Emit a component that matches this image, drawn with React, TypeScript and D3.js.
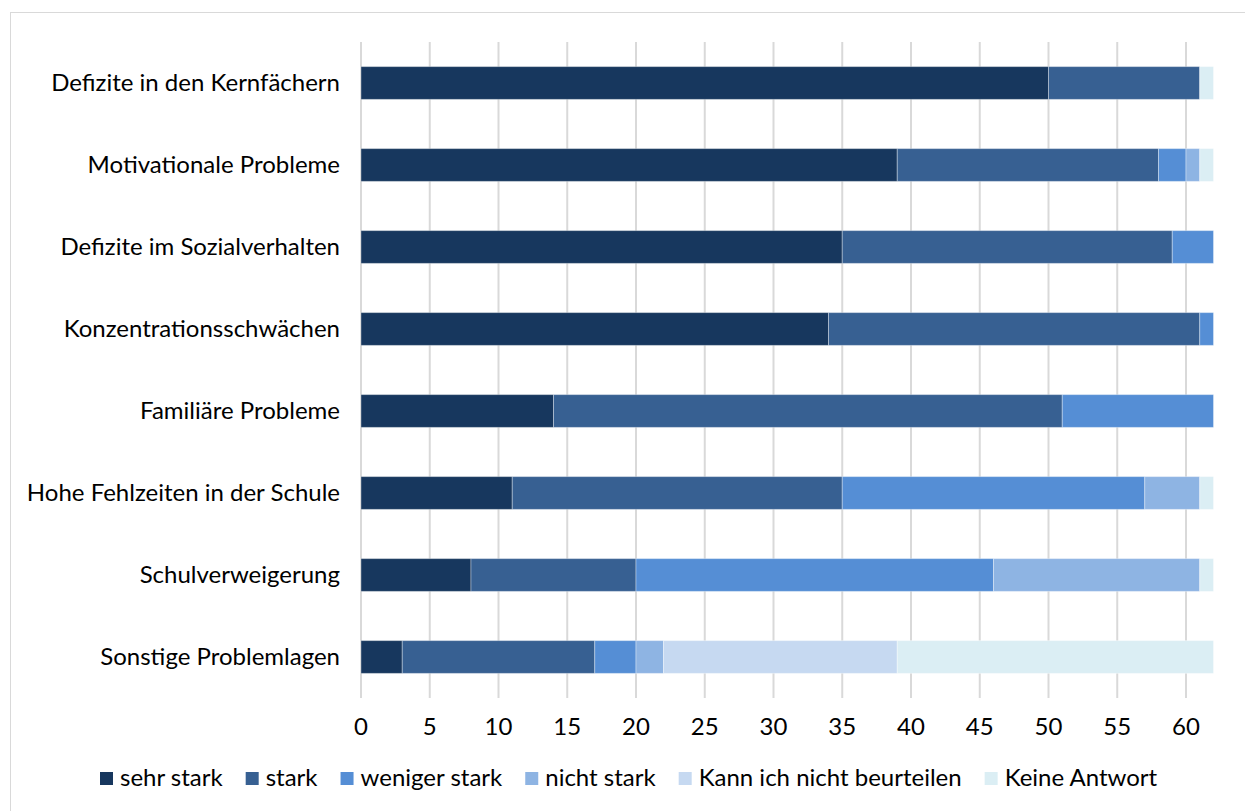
import * as d3 from 'd3';
import { useRef, useEffect } from "react"

const categories = [
    "Defizite in den Kernfächern",
    "Motivationale Probleme",
    "Defizite im Sozialverhalten",
    "Konzentrationsschwächen",
    "Familiäre Probleme",
    "Hohe Fehlzeiten in der Schule",
    "Schulverweigerung",
    "Sonstige Problemlagen",
]
const seriesNames = ["sehr stark", "stark", "weniger stark", "nicht stark", "Kann ich nicht beurteilen", "Keine Antwort"]
const sehrStark = [50, 39, 35, 34, 14, 11, 8, 3]
const stark = [11, 19, 24, 27, 37, 24, 12, 14]
const wenigerStark = [0, 2, 3, 1, 11, 22, 26, 3]
const nichtStark = [0, 1, 0, 0, 0, 4, 15, 2]
const kannNicht = [0, 0, 0, 0, 0, 0, 0, 17]
const keineAntwort = [1, 1, 0, 0, 0, 1, 1, 23]
const xTicks = [0, 5, 10, 15, 20, 25, 30, 35, 40, 45, 50, 55, 60]
const colors = ["#17375e", "#376092", "#558ed5", "#8eb4e3", "#c6d9f1", "#dbeef4"]

const FONT = "Lato, 'Open Sans', sans-serif"
const FONT_SIZE = "24px"

function App() {
    const ref = useRef<SVGSVGElement | null>(null)

    useEffect(() => {
        renderChart();
    }, [])

    function renderChart() {
        const svg = d3.select(ref.current!)
        svg.selectAll("*").remove()

        // outer frame
        svg.append("rect")
            .attr("x", 10.5).attr("y", 12.5)
            .attr("width", 1245).attr("height", 811)
            .attr("fill", "#fff")
            .attr("stroke", "#d9d9d9")

        const allSeries = [sehrStark, stark, wenigerStark, nichtStark, kannNicht, keineAntwort]
        const rows = categories.map((c, i) => {
            const r: any = { cat: c }
            seriesNames.forEach((s, j) => { r[s] = allSeries[j][i] })
            return r
        })
        const stacked = d3.stack().keys(seriesNames)(rows)

        const x = d3.scaleLinear().domain([0, 62]).range([361, 1213.5])
        const y = d3.scaleBand().domain(categories).range([42, 698]).paddingInner(0.6).paddingOuter(0.3)

        // gridlines
        svg.append("g")
            .selectAll("line")
            .data(xTicks)
            .enter()
            .append("line")
            .attr("x1", d => x(d)).attr("x2", d => x(d))
            .attr("y1", 42).attr("y2", 698)
            .attr("stroke", "#d9d9d9")
            .attr("stroke-width", 2)

        // bars
        svg.append("g")
            .selectAll("g")
            .data(stacked)
            .enter()
            .append("g")
            .attr("fill", (_d, i) => colors[i])
            .selectAll("rect")
            .data(d => d)
            .enter()
            .append("rect")
            .attr("x", d => x(d[0]))
            .attr("y", d => y((d.data as any).cat)!)
            .attr("width", d => x(d[1]) - x(d[0]))
            .attr("height", y.bandwidth())
            .attr("stroke", "rgba(255,255,255,0.35)")
            .attr("stroke-width", 1)

        // category labels
        svg.append("g")
            .selectAll("text")
            .data(categories)
            .enter()
            .append("text")
            .attr("x", 340)
            .attr("y", d => y(d)! + y.bandwidth() / 2)
            .attr("dy", "0.35em")
            .attr("text-anchor", "end")
            .style("font-family", FONT)
            .style("font-size", FONT_SIZE)
            .style("fill", "#000")
            .text(d => d)

        // x tick labels
        svg.append("g")
            .selectAll("text")
            .data(xTicks)
            .enter()
            .append("text")
            .attr("x", d => x(d))
            .attr("y", 727)
            .attr("dy", "0.35em")
            .attr("text-anchor", "middle")
            .style("font-family", FONT)
            .style("font-size", FONT_SIZE)
            .style("fill", "#000")
            .text(d => d)

        // legend
        const legend = svg.append("g")
        let lx = 100
        seriesNames.forEach((s, i) => {
            legend.append("rect")
                .attr("x", lx).attr("y", 772)
                .attr("width", 13).attr("height", 13)
                .attr("fill", colors[i])
            const t = legend.append("text")
                .attr("x", lx + 20)
                .attr("y", 778)
                .attr("dy", "0.35em")
                .style("font-family", FONT)
                .style("font-size", FONT_SIZE)
                .style("fill", "#000")
                .text(s)
            const w = (t.node() as SVGTextElement).getComputedTextLength()
            lx += 20 + w + 23
        })
    }

    return (
        <svg
            ref={ref}
            width={1245}
            height={811}
            style={{ position: 'absolute', left: 0, top: 0, background: '#fff' }}
        />
    )
}

export default App;
